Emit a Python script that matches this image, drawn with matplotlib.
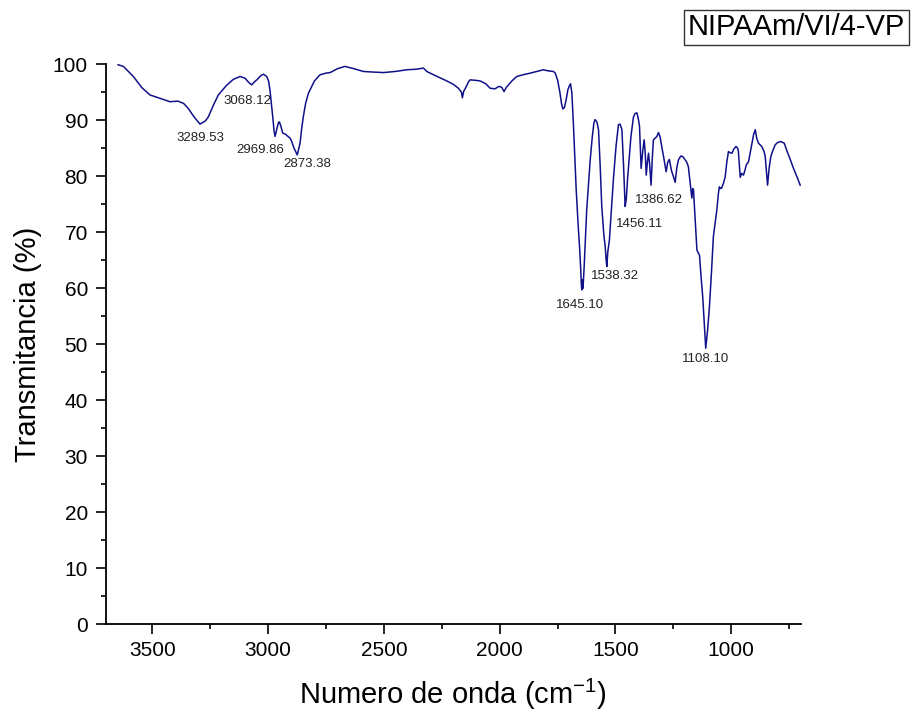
import numpy as np
import matplotlib
matplotlib.use('Agg')
import matplotlib.pyplot as plt
from matplotlib.ticker import MultipleLocator

plt.rcParams['font.family'] = ['Liberation Sans', 'DejaVu Sans']

# FTIR spectrum (wavenumber in cm-1, transmittance in %)
wavenumber = [
    3648, 3625, 3582, 3545, 3510, 3467, 3424, 3390, 3365, 3345, 3320, 3294, 3270, 3258,
    3235, 3215, 3180, 3150, 3121, 3100, 3085, 3071, 3060, 3049, 3030, 3020, 3006, 2998,
    2992, 2986, 2980, 2974, 2970, 2962, 2955, 2951, 2944, 2937, 2925, 2917, 2905, 2898,
    2888, 2874, 2862, 2855, 2848, 2838, 2826, 2800, 2776, 2750, 2732, 2700, 2668, 2630,
    2589, 2550, 2502, 2450, 2401, 2360, 2329, 2315, 2280, 2228, 2200, 2178, 2165, 2161,
    2155, 2149, 2135, 2128, 2100, 2084, 2060, 2041, 2020, 2005, 1998, 1990, 1981, 1972,
    1962, 1945, 1926, 1900, 1868, 1840, 1811, 1790, 1768, 1760, 1750, 1740, 1733, 1727,
    1720, 1713, 1705, 1699, 1694, 1688, 1681, 1675, 1670, 1662, 1655, 1650, 1647, 1645,
    1642, 1640, 1635, 1630, 1624, 1615, 1609, 1600, 1593, 1588, 1580, 1573, 1566, 1559,
    1550, 1544, 1540, 1537, 1533, 1526, 1518, 1508, 1497, 1487, 1480, 1472, 1465, 1458,
    1453, 1448, 1440, 1433, 1422, 1415, 1407, 1400, 1396, 1389, 1382, 1376, 1371, 1367,
    1362, 1357, 1352, 1346, 1341, 1336, 1328, 1321, 1314, 1307, 1300, 1290, 1281, 1274,
    1267, 1258, 1250, 1242, 1235, 1228, 1218, 1209, 1200, 1192, 1185, 1178, 1170, 1166,
    1163, 1155, 1148, 1142, 1137, 1130, 1123, 1116, 1110, 1102, 1094, 1085, 1077, 1070,
    1062, 1055, 1051, 1046, 1041, 1033, 1026, 1019, 1012, 1005, 997, 988, 979, 972,
    969, 965, 961, 955, 947, 941, 935, 925, 912, 903, 896, 890, 882, 868,
    858, 853, 848, 843, 836, 829, 820, 810, 800, 786, 771, 760, 745, 731,
    716, 702,
]
transmittance = [
    99.9, 99.6, 97.8, 95.8, 94.5, 93.9, 93.3, 93.4, 93.0, 92.1, 90.6, 89.3, 89.9, 90.6,
    92.8, 94.5, 96.2, 97.3, 97.8, 97.5, 96.8, 96.3, 96.8, 97.2, 98.0, 98.2, 97.8, 97.0,
    95.4, 93.0, 90.6, 88.0, 87.1, 88.5, 89.6, 89.7, 88.8, 87.7, 87.5, 87.2, 86.8, 86.2,
    85.0, 83.8, 85.9, 88.5, 90.6, 93.0, 94.8, 97.0, 98.1, 98.4, 98.5, 99.2, 99.6, 99.2,
    98.7, 98.6, 98.5, 98.7, 99.0, 99.1, 99.3, 98.7, 98.0, 97.0, 96.4, 95.7, 95.0, 94.0,
    95.2, 95.6, 96.8, 97.2, 97.1, 97.0, 96.5, 95.7, 95.6, 96.0, 96.0, 95.8, 95.1, 95.8,
    96.3, 97.1, 97.8, 98.1, 98.4, 98.7, 99.0, 98.8, 98.7, 98.4, 97.2, 95.0, 93.0, 92.0,
    92.3, 93.6, 95.5, 96.1, 96.5, 94.8, 88.9, 83.0, 78.1, 72.0, 67.4, 63.5, 60.5, 59.7,
    61.5, 60.0, 63.9, 68.5, 74.0, 79.5, 82.9, 87.0, 89.5, 90.1, 89.7, 88.3, 82.0, 74.6,
    69.5, 67.4, 65.0, 63.9, 66.5, 68.6, 73.5, 79.9, 85.5, 89.2, 89.3, 88.3, 82.0, 74.6,
    76.0, 79.3, 83.5, 87.1, 90.6, 91.2, 91.3, 90.0, 88.9, 81.4, 84.5, 86.5, 84.0, 80.2,
    82.5, 84.1, 82.0, 78.4, 83.0, 86.5, 86.8, 87.1, 87.8, 87.0, 85.3, 83.0, 80.8, 82.5,
    83.0, 81.0, 80.0, 78.9, 81.5, 82.9, 83.6, 83.5, 83.0, 82.5, 81.7, 79.0, 76.1, 77.8,
    77.6, 72.0, 66.8, 66.3, 65.9, 62.0, 58.5, 53.5, 49.3, 52.5, 56.7, 63.0, 69.2, 71.5,
    74.0, 77.0, 78.1, 77.8, 77.9, 78.8, 79.9, 82.5, 84.4, 84.2, 84.1, 84.9, 85.3, 85.0,
    84.4, 82.0, 79.8, 80.5, 80.2, 81.0, 82.0, 82.6, 85.5, 87.5, 88.3, 86.8, 85.9, 85.3,
    84.4, 83.5, 81.0, 78.4, 81.5, 83.5, 84.6, 85.6, 86.0, 86.2, 85.9, 84.6, 83.0, 81.4,
    79.9, 78.4,
]

# peak labels and where their text sits
peak_labels = ['3289.53', '3068.12', '2969.86', '2873.38', '1645.10',
               '1538.32', '1456.11', '1386.62', '1108.10']
label_x = [3292, 3091, 3036, 2829, 1652, 1500, 1396, 1310, 1112]
label_y = [86.8, 93.5, 84.7, 82.1, 57.1, 62.1, 71.5, 75.7, 47.3]

fig = plt.figure(figsize=(9.14, 7.21), dpi=100)
ax = fig.add_axes([0.116, 0.134, 0.76, 0.777])

ax.plot(wavenumber, transmittance, color='#10108a', lw=1.1)

for txt, lx, ly in zip(peak_labels, label_x, label_y):
    ax.text(lx, ly, txt, fontsize=9.5, ha='center', va='center', color='#222222')

ax.set_xlim(3700, 700)
ax.set_ylim(0, 100)
ax.xaxis.set_major_locator(MultipleLocator(500))
ax.xaxis.set_minor_locator(MultipleLocator(250))
ax.yaxis.set_major_locator(MultipleLocator(10))
ax.yaxis.set_minor_locator(MultipleLocator(5))

ax.spines['top'].set_visible(False)
ax.spines['right'].set_visible(False)
for s in ['left', 'bottom']:
    ax.spines[s].set_linewidth(1.3)

ax.tick_params(which='major', direction='out', length=7, width=1.2, labelsize=15)
ax.tick_params(axis='y', which='major', pad=6)
ax.tick_params(axis='x', which='major', pad=5)
ax.tick_params(which='minor', direction='out', length=3.6, width=1.2)

ax.set_xlabel('Numero de onda (cm$^{\\mathregular{-1}}$)', fontsize=21, labelpad=12)
ax.set_ylabel('Transmitancia (%)', fontsize=21, labelpad=8)

fig.text(0.8715, 0.962, 'NIPAAm/VI/4-VP', fontsize=21, ha='center', va='center',
         bbox=dict(boxstyle='square,pad=0.12', facecolor='white', edgecolor='#333333', lw=1))

fig.savefig('out.png', dpi=100)
